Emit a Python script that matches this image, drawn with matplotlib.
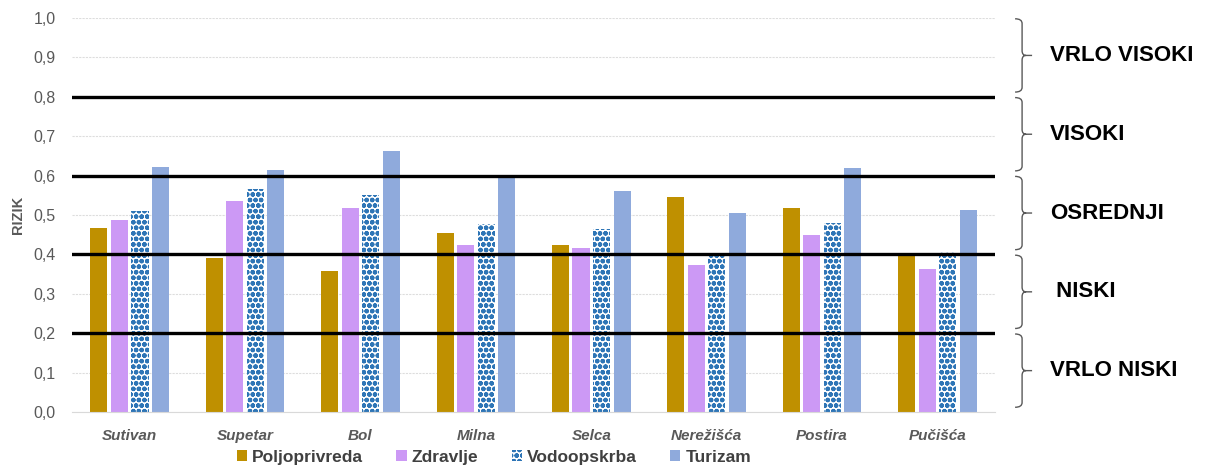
import numpy as np
import matplotlib
matplotlib.use("Agg")
import matplotlib.pyplot as plt
from matplotlib.path import Path
from matplotlib.patches import PathPatch, Patch
from matplotlib import transforms

plt.rcParams["font.family"] = ["Liberation Sans", "DejaVu Sans"]
plt.rcParams["hatch.linewidth"] = 1.6

# ---- data ----
places = ["Sutivan", "Supetar", "Bol", "Milna", "Selca", "Nerežišća", "Postira", "Pučišća"]
poljoprivreda = [0.467, 0.390, 0.357, 0.455, 0.425, 0.545, 0.518, 0.395]
zdravlje = [0.487, 0.535, 0.517, 0.425, 0.415, 0.372, 0.450, 0.363]
vodoopskrba = [0.510, 0.565, 0.550, 0.477, 0.465, 0.400, 0.480, 0.405]
turizam = [0.623, 0.613, 0.663, 0.598, 0.562, 0.505, 0.620, 0.512]
series_names = ["Poljoprivreda", "Zdravlje", "Vodoopskrba", "Turizam"]

thresholds = [0.2, 0.4, 0.6, 0.8]
bands = [(0.8, 1.0, "VRLO VISOKI"), (0.6, 0.8, "VISOKI"), (0.4, 0.6, "OSREDNJI"),
         (0.2, 0.4, " NISKI"), (0.0, 0.2, "VRLO NISKI")]

c_gold = "#BF9000"
c_lilac = "#CC99F5"
c_blue = "#2E75B6"
c_turq = "#8FAADC"
grey = "#595959"

fig = plt.figure(figsize=(12.05, 4.70), dpi=100)
ax = fig.add_axes([0.0598, 0.1234, 0.766, 0.8383])

x = np.arange(len(places))
w = 0.148
step = 0.178
offs = (np.arange(4) - 1.5) * step

ax.bar(x + offs[0], poljoprivreda, w, color=c_gold, zorder=2)
ax.bar(x + offs[1], zdravlje, w, color=c_lilac, zorder=2)
ax.bar(x + offs[2], vodoopskrba, w, facecolor="white", edgecolor=c_blue,
       hatch="ooo", linewidth=0, zorder=2)
ax.bar(x + offs[3], turizam, w, color=c_turq, zorder=2)

for t in thresholds:
    ax.axhline(t, color="black", lw=2.4, zorder=3)

ax.set_xlim(-0.5, len(places) - 0.5)
ax.set_ylim(0, 1.0)
ax.set_yticks(np.arange(0, 1.01, 0.1))
ax.set_yticklabels([f"{v:.1f}".replace(".", ",") for v in np.arange(0, 1.01, 0.1)],
                   color=grey, fontsize=11.5)
ax.set_xticks(x)
ax.set_xticklabels(places, fontsize=11, style="italic", fontweight="bold", color=grey)
ax.tick_params(length=0, pad=12)
ax.tick_params(axis="y", pad=12)
ax.yaxis.grid(True, color="#DDDDDD", lw=0.8, ls=(0, (2, 1)), zorder=0)
for s in ["top", "right", "left"]:
    ax.spines[s].set_visible(False)
ax.spines["bottom"].set_color("#D9D9D9")
ax.set_ylabel("RIZIK", color=grey, fontsize=10.5, fontweight="bold", labelpad=6)

# ---- braces on the right ----
px = 1.0 / (0.766 * 1205)
trans = transforms.blended_transform_factory(ax.transAxes, ax.transData)
x0, xv, xt = 1 + 20 * px, 1 + 27 * px, 1 + 37 * px
rx, ry = 4 * px, 0.012
for lo, hi, label in bands:
    top, bot = hi - 0.002, lo + 0.012
    mid = (top + bot) / 2
    verts = [(x0, top), (xv, top), (xv, top - ry),
             (xv, mid + ry), (xv, mid), (xv + rx, mid),
             (xv, mid), (xv, mid - ry),
             (xv, bot + ry), (xv, bot), (x0, bot),
             (xv + rx, mid), (xt, mid)]
    codes = [Path.MOVETO, Path.CURVE3, Path.CURVE3,
             Path.LINETO, Path.CURVE3, Path.CURVE3,
             Path.CURVE3, Path.CURVE3,
             Path.LINETO, Path.CURVE3, Path.CURVE3,
             Path.MOVETO, Path.LINETO]
    ax.add_patch(PathPatch(Path(verts, codes), fill=False, edgecolor="#595959",
                           lw=1.0, transform=trans, clip_on=False))
    ax.text(1 + 55 * px, mid, label, transform=trans, fontsize=16,
            fontweight="bold", va="center", ha="left", color="black")

# ---- legend ----
handles = [Patch(facecolor=c_gold), Patch(facecolor=c_lilac),
           Patch(facecolor="white", edgecolor=c_blue, hatch="ooo", linewidth=0),
           Patch(facecolor=c_turq)]
fig.legend(handles, series_names, loc="lower center", bbox_to_anchor=(0.41, -0.022),
           ncol=4, frameon=False, handlelength=0.6, handleheight=0.6,
           handletextpad=0.3, columnspacing=1.9,
           prop={"weight": "bold", "size": 12.5}, labelcolor="#404040")

fig.savefig("out.png", dpi=100)
